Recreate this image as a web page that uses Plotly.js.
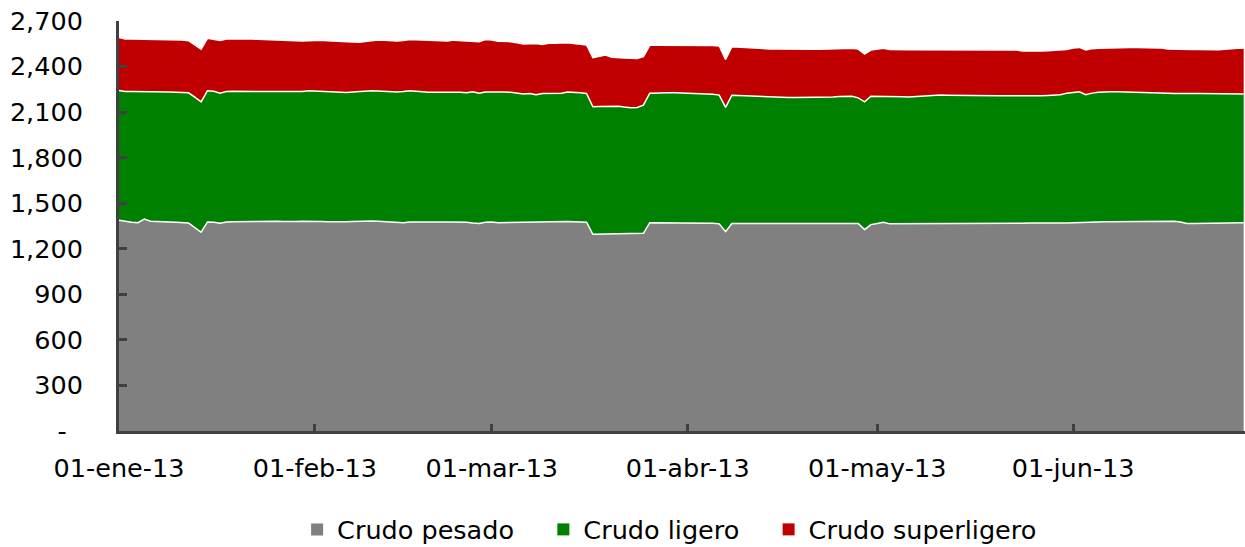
<!DOCTYPE html>
<html>
<head>
<meta charset="utf-8">
<script src="https://cdn.plot.ly/plotly-3.0.1.min.js"></script>
<style>
html,body{margin:0;padding:0;background:#fff;}
#chart{width:1245px;height:547px;}
</style>
</head>
<body>
<div id="chart"></div>
<script>
// Daily series, starting 01-ene-13 (one value per day)
const startDate = '2013-01-01';
const seriesNames = ['Crudo pesado', 'Crudo ligero', 'Crudo superligero'];
const seriesColors = ['#808080', '#008000', '#C00000'];

const pesado = [
  1388,1380,1375,1372,1396,1381,1378,1377,1376,1375,1373,1370,1340,1309,1377,1375,1368,1376,1378,1379,1379,1380,1380,1381,1381,1381,1380,1379,1380,1382,
  1383,1382,1380,1378,1377,1377,1378,1380,1382,1383,1383,1381,1379,1377,1376,1372,1376,1377,1377,1377,1377,1377,1377,1377,1377,1375,1370,1366,1375,1376,
  1372,1373,1374,1374,1375,1375,1376,1377,1377,1378,1379,1379,1378,1377,1375,1295,1296,1297,1297,1297,1298,1299,1300,1302,1372,1372,1372,1372,1372,1372,
  1372,1371,1370,1369,1368,1364,1313,1366,1366,1366,1366,1366,1366,1366,1366,1366,1367,1367,1368,1368,1369,1369,1370,1370,1370,1370,1370,1366,1326,1359,
  1366,1374,1364,1364,1364,1364,1364,1364,1364,1364,1364,1365,1365,1365,1366,1366,1366,1366,1366,1366,1366,1366,1367,1368,1369,1370,1370,1370,1370,1370,
  1370,1372,1374,1375,1377,1377,1378,1378,1378,1379,1379,1380,1380,1380,1381,1381,1381,1381,1376,1367,1367,1368,1369,1370,1371,1372,1372,1372,1372
];
const ligero = [
  855,856,860,863,839,853,856,856,856,855,855,857,858,859,864,863,857,860,859,858,858,856,856,855,855,855,856,857,855,853,
  857,856,857,856,853,850,851,853,855,857,858,858,858,858,857,864,864,861,855,853,853,853,854,855,853,852,864,859,857,856,
  861,859,856,851,845,847,839,845,846,845,846,854,854,851,848,840,841,842,842,842,835,829,830,844,853,855,855,855,855,854,
  851,851,851,850,849,848,818,845,843,842,841,839,835,832,831,831,830,830,829,829,829,829,829,829,832,834,835,828,842,846,
  839,831,839,838,837,835,838,841,844,846,848,846,845,844,842,842,842,842,842,842,842,842,841,839,837,835,838,840,842,844,
  855,858,860,839,848,853,855,856,856,854,854,852,852,852,849,847,844,841,845,855,855,855,854,853,851,849,848,848,847
];
const superligero = [
  349,346,346,345,345,345,345,345,346,347,347,343,345,347,345,341,347,345,345,345,345,345,344,343,342,341,338,336,335,333,
  330,337,336,336,337,339,335,329,323,326,331,336,337,337,336,336,338,338,342,340,338,338,337,342,342,343,333,339,346,343,
  334,334,334,331,328,328,337,324,330,331,331,324,320,320,319,323,331,337,323,318,323,327,323,319,315,313,313,313,312,313,
  319,319,319,321,322,324,316,320,319,317,317,317,318,318,318,317,317,316,316,316,316,316,316,316,314,314,315,321,314,304,
  309,315,309,308,309,311,309,306,303,302,301,302,303,303,303,302,302,301,302,304,304,303,301,296,296,297,294,294,295,295,
  288,292,292,295,293,290,289,290,290,292,293,294,294,294,296,294,291,292,292,291,291,290,289,288,288,293,298,300,301
];

const xTickVals = ['2013-01-01','2013-02-01','2013-03-01','2013-04-01','2013-05-01','2013-06-01'];
const xTickText = ['01-ene-13','01-feb-13','01-mar-13','01-abr-13','01-may-13','01-jun-13'];
const yTickVals = [0,300,600,900,1200,1500,1800,2100,2400,2700];
const yTickText = ['-\u00a0\u00a0','300','600','900','1,200','1,500','1,800','2,100','2,400','2,700'];

// build the date axis values (one per day)
function dayList(n){
  const out = [];
  const d0 = new Date(startDate + 'T00:00:00Z');
  for (let i = 0; i < n; i++){
    const d = new Date(d0.getTime() + i*86400000);
    out.push(d.toISOString().slice(0,10));
  }
  return out;
}
const dates = dayList(pesado.length);

const allSeries = [pesado, ligero, superligero];
const traces = allSeries.map((vals, i) => ({
  type: 'scatter', mode: 'lines', x: dates, y: vals, name: seriesNames[i],
  stackgroup: 'one', fillcolor: seriesColors[i],
  line: {color: '#ffffff', width: 1.5, shape: 'linear'},
  showlegend: false, hoverinfo: 'x+y+name'
}));
// legend entries with square swatches (extra spacing after each name)
const pad = '\u00a0\u00a0\u00a0';
seriesNames.forEach((nm, i) => {
  traces.push({type: 'bar', x: [null], y: [null], name: nm + (i < seriesNames.length - 1 ? pad : ''),
    marker: {color: seriesColors[i]}, showlegend: true, hoverinfo: 'skip'});
});

const axisColor = '#404040';
const fs = 25.5;
const layout = {
  width: 1245, height: 547,
  margin: {l: 119, r: 0, t: 21, b: 116, autoexpand: false},
  paper_bgcolor: '#ffffff', plot_bgcolor: '#ffffff',
  font: {family: 'DejaVu Sans, Verdana, sans-serif', size: fs, color: '#000000'},
  showlegend: true,
  legend: {orientation: 'h', x: 0.489, xanchor: 'center', y: -0.241, yanchor: 'middle',
    font: {size: fs, color: '#000000'}, traceorder: 'normal', bgcolor: 'rgba(0,0,0,0)'},
  xaxis: {
    type: 'date', range: ['2013-01-01', '2013-06-28 05:00'],
    tickmode: 'array', tickvals: xTickVals, ticktext: xTickText,
    ticks: 'inside', ticklen: 7, tickwidth: 3, tickcolor: axisColor,
    showline: true, linecolor: axisColor, linewidth: 3,
    showgrid: false, zeroline: false, ticklabelstandoff: 12,
    tickfont: {size: fs, color: '#000000'}
  },
  yaxis: {
    range: [0, 2700],
    tickmode: 'array', tickvals: yTickVals, ticktext: yTickText,
    ticks: 'inside', ticklen: 8, tickwidth: 3, tickcolor: axisColor,
    showline: true, linecolor: axisColor, linewidth: 3,
    showgrid: false, zeroline: false, ticklabelstandoff: 28,
    tickfont: {size: fs, color: '#000000'}
  }
};

Plotly.newPlot('chart', traces, layout, {staticPlot: true, displayModeBar: false});
</script>
</body>
</html>
